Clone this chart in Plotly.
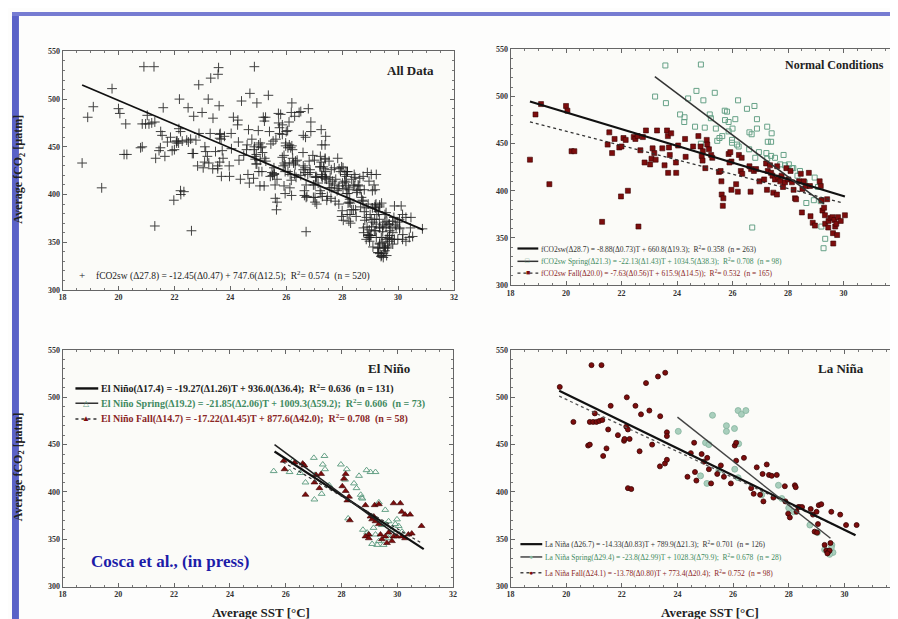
import plotly.graph_objects as go

W, H = 898, 619

# ---------------- data ----------------
# Normal conditions - Fall
NF_T = [18.7,18.9,19.1,19.4,20.0,20.05,20.2,20.3,21.3,21.5,
        21.56,21.66,21.75,21.92,22.0,21.98,22.07,22.15,22.23,22.44,
        22.5,22.58,22.61,22.68,22.77,22.83,22.88,23.03,23.08,23.12,
        23.18,23.23,23.28,23.47,23.55,23.64,23.67,23.71,23.74,23.79,
        23.68,23.97,23.96,24.04,24.29,24.31,24.58,24.77,24.85,24.93,
        24.89,24.92,25.02,25.07,25.09,25.15,25.23,25.27,25.51,25.57,
        25.6,25.61,25.67,25.65,25.86,25.92,25.96,25.89,25.96,26.13,
        26.19,26.23,26.33,26.3,26.35,26.65,26.61,26.67,26.77,26.85,
        26.97,27.14,27.21,27.24,27.27,27.35,27.39,27.44,27.47,27.53,
        27.6,27.65,27.61,27.72,27.77,27.82,27.89,28.01,27.94,28.09,
        28.14,28.2,28.25,28.29,28.4,28.46,28.52,28.57,28.64,28.75,
        28.79,28.5,28.81,28.89,28.97,29.14,29.18,29.21,29.24,29.3,
        29.33,29.34,29.41,29.46,29.53,29.62,29.63,29.6,29.67,29.7,
        29.77,29.74,29.8,29.9,30.05,29.45]
NF_F = [433,481,492,407,490,485,442,442,367,449,
        462,440,455,446,447,394,456,454,400,457,
        455,458,362,443,457,430,464,428,434,445,
        440,433,464,445,427,464,458,446,438,461,
        419,419,430,448,455,436,447,458,447,442,
        437,432,424,454,449,444,438,435,420,421,
        410,396,392,384,439,441,431,430,401,407,
        399,438,435,421,418,399,426,423,421,423,
        410,412,429,401,421,427,419,416,398,412,
        396,414,426,410,416,404,409,412,424,421,
        409,401,392,391,410,418,402,410,405,419,
        405,377,373,366,363,410,405,390,379,382,
        374,365,391,368,371,355,344,372,369,362,
        353,365,372,368,374,361]

# Normal conditions - Spring
NS_T = [23.58,24.86,23.21,23.6,24.7,24.4,24.95,25.36,24.11,24.27,
        24.26,25.18,25.22,24.65,25.0,25.4,25.72,25.8,25.73,25.86,
        26.1,26.2,26.52,26.79,26.88,26.88,26.61,26.69,27.25,27.41,
        27.27,27.39,25.53,25.63,25.45,24.86,25.86,26.0,25.98,25.98,
        26.16,26.22,26.6,26.95,27.22,27.25,27.39,27.53,27.84,27.72,
        27.89,28.03,28.19,28.43,28.34,28.6,28.96,29.08,28.66,28.93,
        29.18,29.2,29.34,29.28,26.71,26.82,28.14]
NS_F = [533,534,500,493,506,498,496,504,481,478,
        473,481,477,468,467,466,485,484,475,473,
        476,496,487,490,476,466,462,460,468,461,
        452,452,456,458,453,450,463,466,454,451,
        449,447,444,441,440,434,437,435,438,428,
        427,428,424,421,416,409,414,404,387,390,
        389,362,349,339,361,435,424]

# El Nino - Spring
ES_T = [25.57,26.14,26.26,26.52,26.71,27.01,27.33,27.39,27.41,27.29,
        27.03,27.98,28.19,28.13,28.45,28.63,28.54,28.9,29.04,29.22,
        29.34,28.69,28.75,29.57,28.77,28.92,29.22,29.28,29.45,29.69,
        29.81,29.99,30.05,29.69,29.34,29.51,28.24,
        28.96,29.15,29.68,29.57,29.93,30.17,29.1,27.05,27.56,28.72]
ES_F = [422,421,433,420,410,436,429,438,424,398,
        392,429,424,413,409,417,404,423,421,421,
        389,397,393,381,360,357,355,344,365,369,
        360,371,364,351,348,344,372,
        355,362,354,366,366,358,345,418,407,394]

# El Nino - Fall
EF_T = [25.93,25.96,26.32,26.61,26.67,27.09,27.27,27.03,27.21,26.71,
        28.15,28.09,28.03,28.15,28.27,28.21,28.86,29.19,29.34,29.87,
        30.11,30.16,30.28,30.46,29.04,29.1,29.22,29.16,29.34,28.3,
        30.87,28.98,28.86,29.4,29.57,29.63,29.69,29.87,29.99,30.16,
        30.28,30.4,30.52,29.81,29.45,28.98]
EF_F = [433,424,431,430,428,418,419,410,404,397,
        419,414,406,401,395,391,386,386,387,388,
        388,379,376,376,374,371,369,374,366,370,
        364,355,353,355,353,346,357,353,353,353,
        351,355,356,348,350,351]

# La Nina - Fall
LF_T = [19.77,20.91,21.27,20.26,20.85,20.97,21.09,21.19,21.3,21.03,
        20.79,20.85,21.33,21.45,21.6,21.51,21.86,22.08,22.1,22.18,
        22.16,22.22,22.28,22.49,22.22,22.34,22.64,22.69,22.87,22.99,
        23.09,23.3,23.38,23.37,23.56,23.55,23.62,23.62,23.62,24.36,
        24.48,24.6,24.63,24.68,24.87,24.95,25.07,25.13,25.21,25.43,
        25.56,25.67,25.92,26.06,26.11,26.11,26.39,26.65,26.74,26.85,
        26.97,27.06,27.09,27.21,27.29,27.39,27.45,27.57,27.86,27.88,
        27.98,28.04,28.22,28.25,28.28,28.34,28.4,28.48,28.79,28.87,
        28.93,29.02,29.05,29.08,29.17,29.0,29.29,29.35,29.41,29.47,
        29.5,29.53,29.85,30.06,30.44,29.39]
LF_F = [511,534,534,474,474,474,474,475,476,483,
        449,450,438,446,491,466,460,454,456,500,
        469,466,456,491,404,403,443,482,515,486,
        450,522,480,427,526,430,463,459,434,416,
        441,452,421,412,440,432,436,424,409,419,
        428,416,409,449,452,433,436,404,398,426,
        397,419,390,429,418,417,394,418,406,390,
        377,373,407,405,379,384,384,384,382,376,
        358,357,366,386,387,379,344,338,336,338,
        346,379,376,365,365,335]

# La Nina - Spring
LS_T = [24.03,25.26,25.76,25.76,26.05,26.18,26.3,26.46,26.2,25.01,
        25.13,24.83,25.06,26.06,25.49,26.18,29.29,29.55,29.59,29.03,
        28.0,28.76,28.18,27.03,27.63,29.53,29.47,27.75]
LS_F = [464,481,470,464,467,486,482,486,451,452,
        450,417,409,424,423,415,339,344,336,357,
        383,365,379,397,407,341,334,393]

# All data = union of all subsets
ALL_T = NF_T + NS_T + ES_T + EF_T + LF_T + LS_T
ALL_F = NF_F + NS_F + ES_F + EF_F + LF_F + LS_F

# regression fits: slope, intercept, T start, T end
FIT_ALL = (-12.45, 747.6, 18.7, 30.9)
FIT_NORMAL = (-8.88, 660.8, 18.7, 30.05)
FIT_NORMAL_SPRING = (-22.13, 1034.5, 23.2, 29.3)
FIT_NORMAL_FALL = (-7.63, 615.9, 18.7, 30.0)
FIT_EN = (-19.27, 936.0, 25.6, 30.95)
FIT_EN_SPRING = (-21.85, 1009.3, 25.6, 30.0)
FIT_EN_FALL = (-17.22, 877.6, 25.9, 30.9)
FIT_LN = (-14.33, 789.9, 19.75, 30.4)
FIT_LN_SPRING = (-23.3, 1038.3, 24.0, 29.5)
FIT_LN_FALL = (-13.78, 773.4, 19.75, 30.4)

X_TICKS = [18, 20, 22, 24, 26, 28, 30, 32]
Y_TICKS = [300, 350, 400, 450, 500, 550]

# ---------------- styling ----------------
SERIF = "Liberation Serif, Times New Roman, serif"
RED = "#7d0d0d"
RED_EDGE = "#3a0505"
GREEN = "#66a187"
LGREEN = "#a9cfbd"
TXT_RED = "#8a2626"
TXT_GREEN = "#3f8a60"


def px(x):
    return x / W


def py(y):
    return 1 - y / H


fig = go.Figure()

# panel domains (pixel boxes)
panels = {
    1: dict(x=(51, 446), y=(40, 282)),
    2: dict(x=(503, 895), y=(38, 277)),
    3: dict(x=(51, 445), y=(343, 583)),
    4: dict(x=(503, 896), y=(343, 583)),
}


def ax_names(i):
    return ("x" if i == 1 else f"x{i}"), ("y" if i == 1 else f"y{i}")


def add_pts(i, xs, ys, marker):
    xa, ya = ax_names(i)
    fig.add_trace(go.Scatter(x=xs, y=ys, mode="markers", marker=marker,
                             xaxis=xa, yaxis=ya, showlegend=False, hoverinfo="skip"))


def add_fit(i, fit, color="#111", width=2.0, dash="solid"):
    m, b, t0, t1 = fit
    xa, ya = ax_names(i)
    fig.add_trace(go.Scatter(x=[t0, t1], y=[m * t0 + b, m * t1 + b], mode="lines",
                             line=dict(color=color, width=width, dash=dash),
                             xaxis=xa, yaxis=ya, showlegend=False, hoverinfo="skip"))


# Panel 1: All data
add_pts(1, ALL_T, ALL_F, dict(symbol="cross-thin", size=7, color="#222",
                              line=dict(width=1.0, color="#222"), opacity=0.85))
add_fit(1, FIT_ALL, width=1.8)

# Panel 2: Normal
add_pts(2, NS_T, NS_F, dict(symbol="square-open", size=5, color=GREEN, line=dict(width=1)))
add_pts(2, NF_T, NF_F, dict(symbol="square", size=5, color=RED, line=dict(width=0.6, color=RED_EDGE)))
add_fit(2, FIT_NORMAL, width=2.2)
add_fit(2, FIT_NORMAL_SPRING, color="#333", width=1.5)
add_fit(2, FIT_NORMAL_FALL, color="#333", width=1.3, dash="dot")

# Panel 3: El Nino
add_pts(3, ES_T, ES_F, dict(symbol="triangle-up-open", size=6, color=GREEN, line=dict(width=1)))
add_pts(3, EF_T, EF_F, dict(symbol="triangle-up", size=6, color=RED, line=dict(width=0.6, color=RED_EDGE)))
add_fit(3, FIT_EN, width=2.2)
add_fit(3, FIT_EN_SPRING, color="#222", width=1.6)
add_fit(3, FIT_EN_FALL, color="#333", width=1.2, dash="dot")

# Panel 4: La Nina
add_pts(4, LS_T, LS_F, dict(symbol="circle", size=6, color=LGREEN, line=dict(width=0.8, color="#84b39d")))
add_pts(4, LF_T, LF_F, dict(symbol="circle", size=5, color=RED, line=dict(width=0.8, color=RED_EDGE)))
add_fit(4, FIT_LN_FALL, color="#555", width=1.3, dash="dot")
add_fit(4, FIT_LN, width=2.2)
add_fit(4, FIT_LN_SPRING, color="#444", width=1.4)

layout = dict(
    width=W, height=H, margin=dict(l=0, r=0, t=0, b=0),
    paper_bgcolor="#fdfdfc", plot_bgcolor="#fbfbf8",
    font=dict(family=SERIF, color="#222"),
    showlegend=False,
)

axis_common = dict(
    showgrid=False, zeroline=False, showline=True, linecolor="#666", linewidth=1,
    mirror="allticks", ticks="inside", ticklen=4, tickcolor="#666", tickwidth=1,
    tickfont=dict(family=SERIF, size=8, color="#333", weight="bold"),
)

for i, p in panels.items():
    xa, ya = ax_names(i)
    xkey = "xaxis" if i == 1 else f"xaxis{i}"
    ykey = "yaxis" if i == 1 else f"yaxis{i}"
    layout[xkey] = dict(axis_common, domain=[px(p["x"][0]), px(p["x"][1])], range=[18, 32],
                        tickvals=X_TICKS, anchor=ya,
                        minor=dict(ticks="inside", ticklen=2, dtick=0.5, tickcolor="#777"))
    layout[ykey] = dict(axis_common, domain=[py(p["y"][1]), py(p["y"][0])], range=[300, 550],
                        tickvals=Y_TICKS, anchor=xa,
                        minor=dict(ticks="inside", ticklen=2, dtick=10, tickcolor="#777"))

fig.update_layout(**layout)

ann = []
shapes = []


def text(x, y, s, size=9, color="#222", anchor="left", bold=False, angle=0):
    ann.append(dict(xref="paper", yref="paper", x=px(x), y=py(y), text=s, showarrow=False,
                    xanchor=anchor, yanchor="middle", textangle=angle,
                    font=dict(family=SERIF, size=size, color=color,
                              weight="bold" if bold else "normal")))


def sample(x0, x1, y, dash="solid", width=2, color="#111"):
    shapes.append(dict(type="line", xref="paper", yref="paper", x0=px(x0), x1=px(x1),
                       y0=py(y), y1=py(y), line=dict(color=color, width=width, dash=dash)))


# slide decoration
shapes.append(dict(type="rect", xref="paper", yref="paper", x0=0, x1=px(7), y0=0, y1=1,
                   fillcolor="#5a62c8", line=dict(width=0), layer="below"))
shapes.append(dict(type="rect", xref="paper", yref="paper", x0=0, x1=1, y0=py(4), y1=1,
                   fillcolor="#767cd2", line=dict(width=0), layer="below"))

# panel titles
text(428, 59, "All Data", 13, "#222", "right", True)
text(882, 54, "Normal Conditions", 12, "#222", "right", True)
text(404, 362, "El Niño", 13, "#222", "right", True)
text(862, 362, "La Niña", 13, "#222", "right", True)

# axis titles
YT = "Average fCO<sub>2</sub> [µatm]"
text(-3, 160, YT, 12, "#222", "left", True, -90)
text(-3, 462, YT, 12, "#222", "left", True, -90)
text(251, 609, "Average SST [°C]", 13, "#222", "center", True)
text(704, 609, "Average SST [°C]", 13, "#222", "center", True)

# legend panel 1
text(71, 267, "+", 11, "#222", "center")
text(83, 267, "fCO2sw (Δ27.8) = -12.45(Δ0.47) + 747.6(Δ12.5);  R<sup>2</sup>= 0.574  (n = 520)", 9.5)

# legend panel 2
sample(510, 531, 240, width=2.2)
text(532, 240, "fCO2sw(Δ28.7) = -8.88(Δ0.73)T + 660.8(Δ19.3);  R<sup>2</sup>= 0.358  (n = 263)", 7.5, "#333")
sample(510, 531, 253, width=1.5, color="#333")
text(520.5, 253, "□", 7, GREEN, "center")
text(532, 253, "fCO2sw Spring(Δ21.3) = -22.13(Δ1.43)T + 1034.5(Δ38.3);  R<sup>2</sup>= 0.708  (n = 98)", 7.5, TXT_GREEN)
sample(510, 531, 265, dash="dot", width=1.3, color="#333")
text(520.5, 265, "■", 7, RED, "center")
text(532, 265, "fCO2sw Fall(Δ20.0) = -7.63(Δ0.56)T + 615.9(Δ14.5));  R<sup>2</sup>= 0.532  (n = 165)", 7.5, TXT_RED)

# legend panel 3
sample(64, 87, 382, width=2.4)
text(88, 382, "El Niño(Δ17.4) = -19.27(Δ1.26)T + 936.0(Δ36.4);  R<sup>2</sup>= 0.636  (n = 131)", 10, "#222", bold=True)
sample(64, 87, 397, width=1.5, color="#333")
text(75, 397, "△", 8, GREEN, "center")
text(88, 397, "El Niño Spring(Δ19.2) = -21.85(Δ2.06)T + 1009.3(Δ59.2);  R<sup>2</sup>= 0.606  (n = 73)", 10, TXT_GREEN, bold=True)
sample(64, 87, 413, dash="dot", width=1.3, color="#333")
text(75, 412, "▲", 8, RED, "center")
text(88, 413, "El Niño Fall(Δ14.7) = -17.22(Δ1.45)T + 877.6(Δ42.0);  R<sup>2</sup>= 0.708  (n = 58)", 10, TXT_RED, bold=True)

# legend panel 4
sample(513, 535, 540, width=2.2)
text(536, 540, "La Niña (Δ26.7) = -14.33(Δ0.83)T + 789.9(Δ21.3);  R<sup>2</sup>= 0.701  (n = 126)", 7.5, "#333")
sample(513, 535, 553, width=1.5, color="#444")
text(524, 553, "●", 7, "#84b39d", "center")
text(536, 553, "La Niña Spring(Δ29.4) = -23.8(Δ2.99)T + 1028.3(Δ79.9);  R<sup>2</sup>= 0.678  (n = 28)", 7.5, TXT_GREEN)
sample(513, 535, 569, dash="dot", width=1.3, color="#444")
text(524, 569, "●", 7, RED, "center")
text(536, 569, "La Niña Fall(Δ24.1) = -13.78(Δ0.80)T + 773.4(Δ20.4);  R<sup>2</sup>= 0.752  (n = 98)", 7.5, TXT_RED)

# citation
text(78, 558, "Cosca et al., (in press)", 17, "#1c1ca8", "left", True)

fig.update_layout(annotations=ann, shapes=shapes)
fig.write_html("out.html")
